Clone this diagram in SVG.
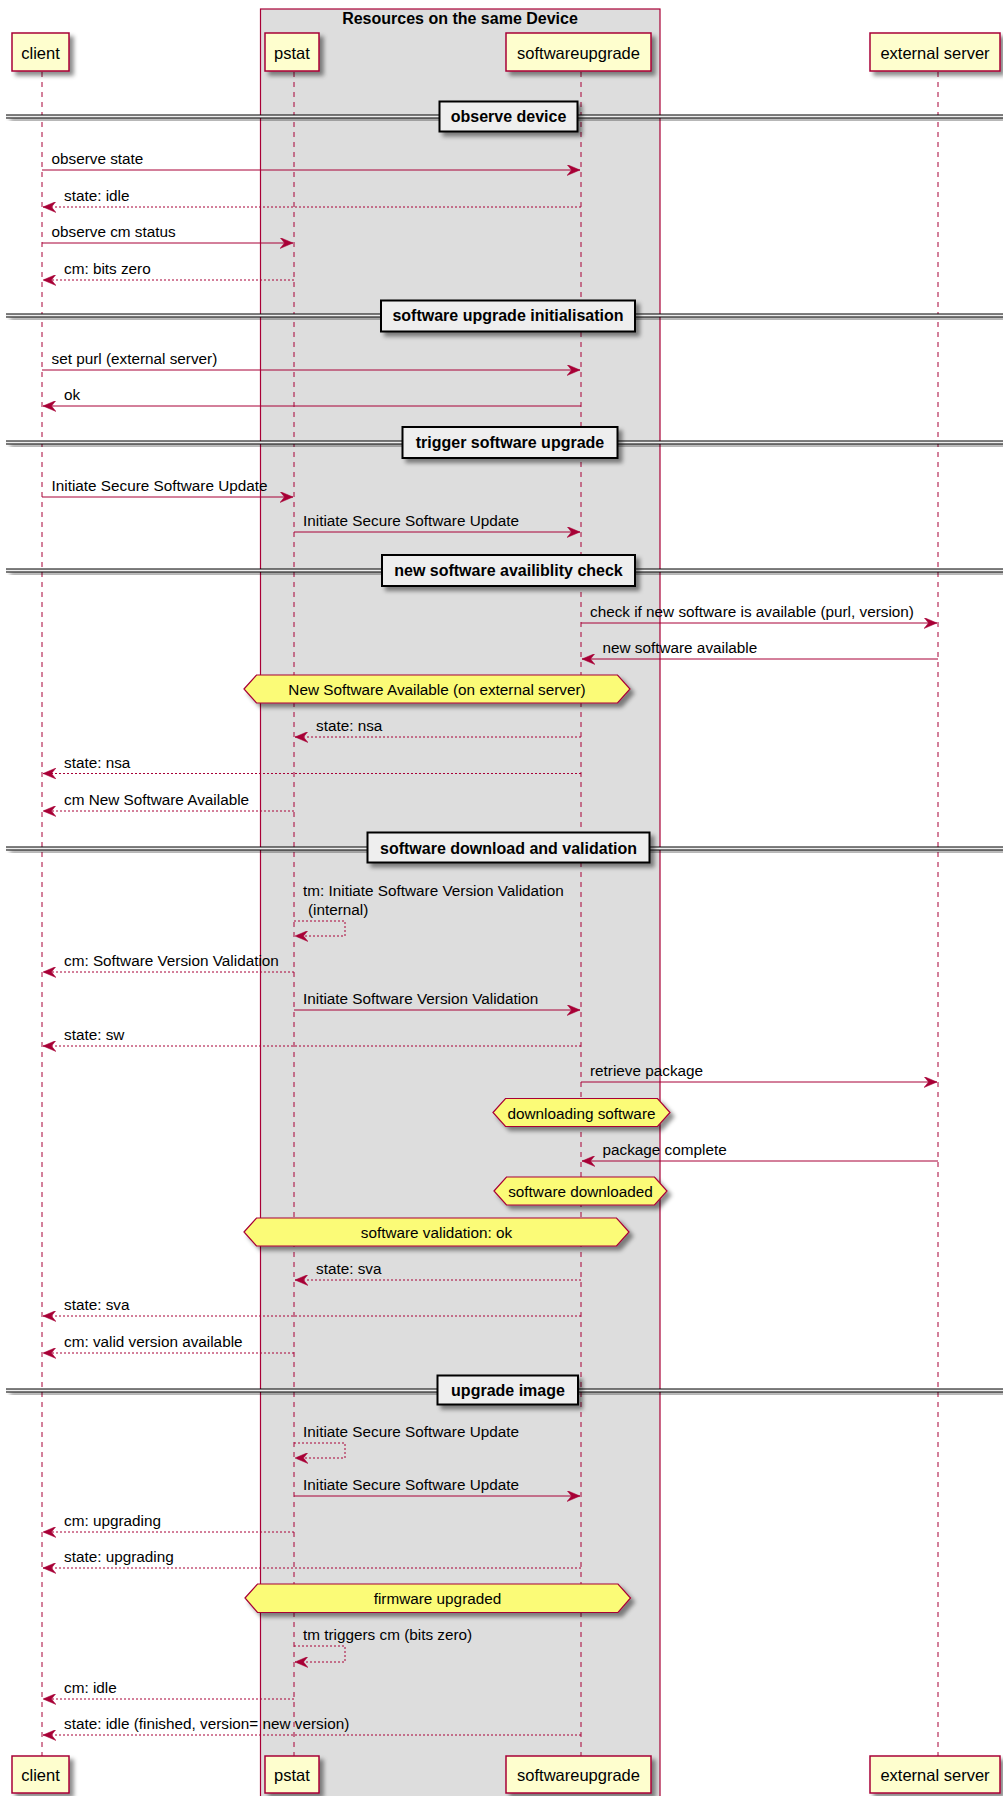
<svg xmlns="http://www.w3.org/2000/svg" width="1003" height="1796" viewBox="0 0 1003 1796">
<defs>
<filter id="sh" x="-20%" y="-20%" width="150%" height="200%">
<feGaussianBlur in="SourceAlpha" stdDeviation="2" result="b"/>
<feColorMatrix type="matrix" in="b" values="0 0 0 0 0  0 0 0 0 0  0 0 0 0 0  0 0 0 0.45 0" result="c"/>
<feOffset dx="4" dy="4" in="c" result="o"/>
<feMerge><feMergeNode in="o"/><feMergeNode in="SourceGraphic"/></feMerge>
</filter>
<marker id="ar" viewBox="0 0 13 11" refX="13" refY="5.5" markerWidth="13" markerHeight="11" markerUnits="userSpaceOnUse" orient="auto">
<polygon points="0,0 13,5.5 0,11 4.5,5.5" fill="#A80036" stroke="#A80036" stroke-width="0.5"/>
</marker>
</defs>
<style>
.part{fill:#FEFECE;stroke:#A80036;stroke-width:1.5;filter:url(#sh)}
.ptxt{font-family:"Liberation Sans",Arial,sans-serif;font-size:16.5px;fill:#000;text-anchor:middle}
.life{stroke:#A80036;stroke-width:1;stroke-dasharray:5,5}
.msg{stroke:#A80036;stroke-width:1;fill:none;marker-end:url(#ar)}
.ret{stroke:#A80036;stroke-width:1;fill:none;stroke-dasharray:2,2;marker-end:url(#ar)}
.t{font-family:"Liberation Sans",Arial,sans-serif;font-size:15.3px;fill:#000}
.tc{font-family:"Liberation Sans",Arial,sans-serif;font-size:15.3px;fill:#000;text-anchor:middle}
.b{font-family:"Liberation Sans",Arial,sans-serif;font-size:16px;font-weight:bold;fill:#000;text-anchor:middle}
.hex{fill:#FBFB77;stroke:#A80036;stroke-width:1.2;filter:url(#sh)}
.divbox{fill:#EEEEEE;stroke:#000;stroke-width:2;filter:url(#sh)}
.divln{stroke:#000;stroke-width:1}
</style>
<rect width="1003" height="1796" fill="#FFFFFF"/>

<g id="group-device">
<rect x="260.5" y="9" width="399.5" height="1800" fill="#DDDDDD" stroke="#A80036" stroke-width="1.2"/>
<text class="b" x="460" y="24">Resources on the same Device</text>
</g>

<g id="lifelines">
<line class="life" x1="42" y1="72" x2="42" y2="1756"/>
<line class="life" x1="294" y1="72" x2="294" y2="1756"/>
<line class="life" x1="581" y1="72" x2="581" y2="1756"/>
<line class="life" x1="938" y1="72" x2="938" y2="1756"/>
</g>

<g id="client">
<rect class="part" x="12" y="33" width="57" height="38"/>
<text class="ptxt" x="40.5" y="58.5">client</text>
<rect class="part" x="12" y="1756" width="57" height="37"/>
<text class="ptxt" x="40.5" y="1781">client</text>
</g>
<g id="pstat">
<rect class="part" x="265" y="33" width="54" height="38"/>
<text class="ptxt" x="292" y="58.5">pstat</text>
<rect class="part" x="265" y="1756" width="54" height="37"/>
<text class="ptxt" x="292" y="1781">pstat</text>
</g>
<g id="softwareupgrade">
<rect class="part" x="506" y="33" width="145" height="38"/>
<text class="ptxt" x="578.5" y="58.5">softwareupgrade</text>
<rect class="part" x="506" y="1756" width="145" height="37"/>
<text class="ptxt" x="578.5" y="1781">softwareupgrade</text>
</g>
<g id="external-server">
<rect class="part" x="870" y="33" width="130" height="38"/>
<text class="ptxt" x="935" y="58.5">external server</text>
<rect class="part" x="870" y="1756" width="130" height="37"/>
<text class="ptxt" x="935" y="1781">external server</text>
</g>

<g id="dividers">
<g id="div-observe">
<g filter="url(#sh)"><rect x="6" y="115" width="997" height="3" fill="#EEEEEE"/><line class="divln" x1="6" y1="115" x2="1003" y2="115"/><line class="divln" x1="6" y1="118" x2="1003" y2="118"/></g>
<rect class="divbox" x="439.5" y="101.5" width="138" height="30"/>
<text class="b" x="508.5" y="122">observe device</text>
</g>
<g id="div-init">
<g filter="url(#sh)"><rect x="6" y="314" width="997" height="3" fill="#EEEEEE"/><line class="divln" x1="6" y1="314" x2="1003" y2="314"/><line class="divln" x1="6" y1="317" x2="1003" y2="317"/></g>
<rect class="divbox" x="381" y="300.5" width="254" height="31"/>
<text class="b" x="508" y="321">software upgrade initialisation</text>
</g>
<g id="div-trigger">
<g filter="url(#sh)"><rect x="6" y="441" width="997" height="3" fill="#EEEEEE"/><line class="divln" x1="6" y1="441" x2="1003" y2="441"/><line class="divln" x1="6" y1="444" x2="1003" y2="444"/></g>
<rect class="divbox" x="402.5" y="427" width="215" height="31"/>
<text class="b" x="510" y="448">trigger software upgrade</text>
</g>
<g id="div-check">
<g filter="url(#sh)"><rect x="6" y="569" width="997" height="3" fill="#EEEEEE"/><line class="divln" x1="6" y1="569" x2="1003" y2="569"/><line class="divln" x1="6" y1="572" x2="1003" y2="572"/></g>
<rect class="divbox" x="382" y="555" width="253" height="31"/>
<text class="b" x="508.5" y="576">new software availiblity check</text>
</g>
<g id="div-download">
<g filter="url(#sh)"><rect x="6" y="847" width="997" height="3" fill="#EEEEEE"/><line class="divln" x1="6" y1="847" x2="1003" y2="847"/><line class="divln" x1="6" y1="850" x2="1003" y2="850"/></g>
<rect class="divbox" x="367.5" y="832.5" width="282" height="30"/>
<text class="b" x="508.5" y="853.5">software download and validation</text>
</g>
<g id="div-upgrade">
<g filter="url(#sh)"><rect x="6" y="1389" width="997" height="3" fill="#EEEEEE"/><line class="divln" x1="6" y1="1389" x2="1003" y2="1389"/><line class="divln" x1="6" y1="1392" x2="1003" y2="1392"/></g>
<rect class="divbox" x="437.5" y="1375.5" width="140.5" height="29"/>
<text class="b" x="508" y="1396">upgrade image</text>
</g>
</g>

<g id="notes">
<g id="note-nsa"><polygon class="hex" points="244,689 256.5,675 617.5,675 630,689 617.5,703 256.5,703"/><text class="tc" x="437" y="695">New Software Available (on external server)</text></g>
<g id="note-downloading"><polygon class="hex" points="493,1112.5 505.5,1098.5 657.5,1098.5 670,1112.5 657.5,1126.5 505.5,1126.5"/><text class="tc" x="581.5" y="1118.5">downloading software</text></g>
<g id="note-downloaded"><polygon class="hex" points="494,1191 506.5,1177 654.5,1177 667,1191 654.5,1205 506.5,1205"/><text class="tc" x="580.5" y="1197">software downloaded</text></g>
<g id="note-valid"><polygon class="hex" points="244,1232 256.5,1218 616.5,1218 629,1232 616.5,1246 256.5,1246"/><text class="tc" x="436.5" y="1238">software validation: ok</text></g>
<g id="note-fw"><polygon class="hex" points="245,1598 257.5,1584 618,1584 630.5,1598 618,1612.5 257.5,1612.5"/><text class="tc" x="437.5" y="1604">firmware upgraded</text></g>
</g>

<g id="connectors">
<path class="msg" d="M42,170 H580"/><text class="t" x="51.5" y="164">observe state</text>
<path class="ret" d="M581,207 H43"/><text class="t" x="64" y="201">state: idle</text>
<path class="msg" d="M42,243 H293"/><text class="t" x="51.5" y="237">observe cm status</text>
<path class="ret" d="M294,280 H43"/><text class="t" x="64" y="274">cm: bits zero</text>

<path class="msg" d="M42,370 H580"/><text class="t" x="51.5" y="364">set purl (external server)</text>
<path class="msg" d="M581,406 H43"/><text class="t" x="64" y="400">ok</text>

<path class="msg" d="M42,497 H293"/><text class="t" x="51.5" y="491">Initiate Secure Software Update</text>
<path class="msg" d="M294,532 H580"/><text class="t" x="303" y="526">Initiate Secure Software Update</text>

<path class="msg" d="M581,623 H937"/><text class="t" x="590" y="617">check if new software is available (purl, version)</text>
<path class="msg" d="M938,659 H582"/><text class="t" x="602.5" y="653">new software available</text>

<path class="ret" d="M581,737 H295"/><text class="t" x="316" y="731">state: nsa</text>
<path class="ret" d="M581,773.5 H43"/><text class="t" x="64" y="767.5">state: nsa</text>
<path class="ret" d="M294,811 H43"/><text class="t" x="64" y="805">cm New Software Available</text>

<path class="ret" d="M294,921 H345 V936 H295"/><text class="t" x="303" y="895.5">tm: Initiate Software Version Validation</text><text class="t" x="308" y="915">(internal)</text>
<path class="ret" d="M294,972 H43"/><text class="t" x="64" y="966">cm: Software Version Validation</text>
<path class="msg" d="M294,1010 H580"/><text class="t" x="303" y="1004">Initiate Software Version Validation</text>
<path class="ret" d="M581,1046 H43"/><text class="t" x="64" y="1040">state: sw</text>
<path class="msg" d="M581,1082 H937"/><text class="t" x="590" y="1076">retrieve package</text>
<path class="msg" d="M938,1161 H582"/><text class="t" x="602.5" y="1155">package complete</text>

<path class="ret" d="M581,1280 H295"/><text class="t" x="316" y="1274">state: sva</text>
<path class="ret" d="M581,1316 H43"/><text class="t" x="64" y="1310">state: sva</text>
<path class="ret" d="M294,1353 H43"/><text class="t" x="64" y="1347">cm: valid version available</text>

<path class="ret" d="M294,1443 H345 V1458 H295"/><text class="t" x="303" y="1437">Initiate Secure Software Update</text>
<path class="msg" d="M294,1496 H580"/><text class="t" x="303" y="1490">Initiate Secure Software Update</text>
<path class="ret" d="M294,1532 H43"/><text class="t" x="64" y="1526">cm: upgrading</text>
<path class="ret" d="M581,1568 H43"/><text class="t" x="64" y="1562">state: upgrading</text>

<path class="ret" d="M294,1646 H345 V1662 H295"/><text class="t" x="303" y="1640">tm triggers cm (bits zero)</text>
<path class="ret" d="M294,1699 H43"/><text class="t" x="64" y="1693">cm: idle</text>
<path class="ret" d="M581,1735 H43"/><text class="t" x="64" y="1729">state: idle (finished, version= new version)</text>
</g>
</svg>
